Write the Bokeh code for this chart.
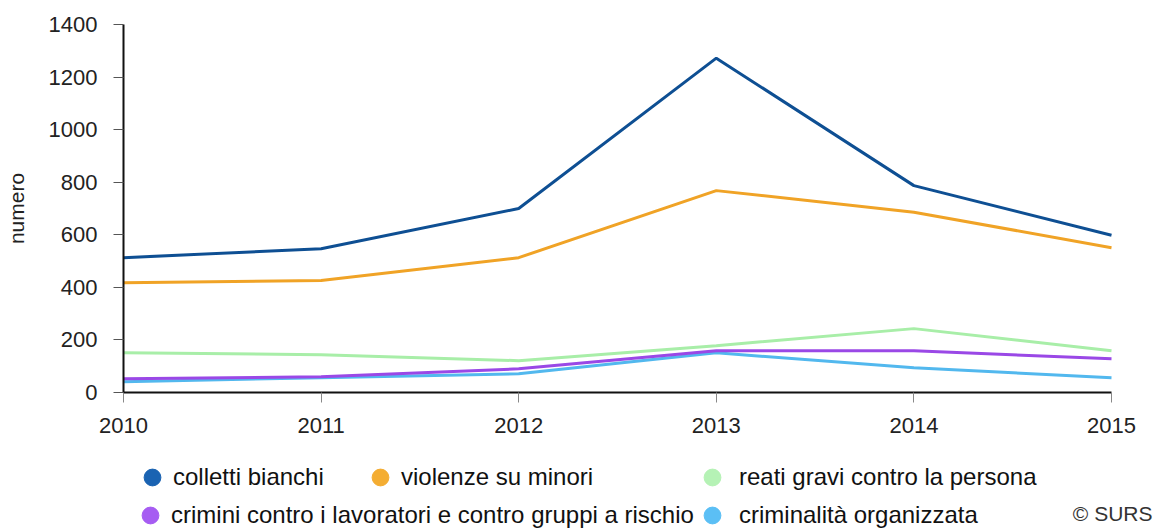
import math
from bokeh.plotting import figure
from bokeh.layouts import column
from bokeh.models import Range1d, FixedTicker, Legend, LegendItem, Label
from bokeh.embed import file_html
from bokeh.resources import INLINE

years = [2010, 2011, 2012, 2013, 2014, 2015]
colletti_bianchi = [513, 547, 700, 1272, 787, 598]
violenze_minori = [418, 426, 513, 768, 686, 551]
reati_gravi = [151, 144, 121, 178, 243, 159]
crimini_lavoratori = [52, 60, 90, 159, 159, 128]
criminalita_org = [41, 56, 71, 151, 94, 56]

names = ["colletti bianchi", "violenze su minori", "reati gravi contro la persona",
         "crimini contro i lavoratori e contro gruppi a rischio", "criminalità organizzata"]
series = [colletti_bianchi, violenze_minori, reati_gravi, crimini_lavoratori, criminalita_org]
line_colors = ["#0e4f93", "#f0a326", "#a8eea8", "#9a48e6", "#52b8ee"]
dot_colors = ["#1a63b2", "#f4ad32", "#b5f2b5", "#a65cf2", "#5bbff5"]
y_ticks = [0, 200, 400, 600, 800, 1000, 1200, 1400]

FONT = "Liberation Sans"

# frame: left edge at 123px, 2015 at 1111px, frame runs to the right edge (1156px)
FRAME_LEFT = 123
PX_PER_YEAR = (1111 - 123) / 5.0
x_end = years[0] + (1156 - FRAME_LEFT) / PX_PER_YEAR

p = figure(width=1156, height=440, output_backend="svg", toolbar_location=None,
           x_range=Range1d(years[0], x_end), y_range=Range1d(0, 1400),
           min_border_left=FRAME_LEFT, min_border_right=0, min_border_top=24, min_border_bottom=48)
p.outline_line_color = None
p.xgrid.grid_line_color = None
p.ygrid.grid_line_color = None

order = [0, 1, 2, 4, 3]
for i in order:
    p.line(years, series[i], line_color=line_colors[i], line_width=3)

# axes
p.xaxis.ticker = FixedTicker(ticks=years)
p.xaxis.bounds = (years[0], years[-1])
p.yaxis.ticker = FixedTicker(ticks=y_ticks)
for ax in (p.xaxis[0], p.yaxis[0]):
    ax.axis_line_color = "#111111"
    ax.axis_line_width = 2
    ax.minor_tick_line_color = None
    ax.major_tick_in = 0
    ax.major_label_text_font = FONT
    ax.major_label_text_font_size = "22px"
    ax.major_label_text_color = "#222222"
p.xaxis.major_tick_out = 10
p.xaxis.major_tick_line_color = "#888888"
p.xaxis.major_label_standoff = 15
p.yaxis.major_tick_out = 10
p.yaxis.major_tick_line_color = "#555555"
p.yaxis.major_label_standoff = 16
p.yaxis.axis_label = "numero"
p.yaxis.axis_label_text_font = FONT
p.yaxis.axis_label_text_font_size = "21px"
p.yaxis.axis_label_text_font_style = "normal"
p.yaxis.axis_label_text_color = "#222222"
p.yaxis.axis_label_standoff = 18

# legend panel (its frame is aligned with the chart's frame)
q = figure(width=1156, height=89, output_backend="svg", toolbar_location=None,
           x_range=Range1d(0, 1), y_range=Range1d(0, 1),
           min_border_left=FRAME_LEFT, min_border_right=0, min_border_top=0, min_border_bottom=0)
q.axis.visible = False
q.grid.visible = False
q.outline_line_color = None

nan = float("nan")
dummies = [q.scatter(x=[nan], y=[nan], marker="circle", fill_color=c, line_color=c)
           for c in dot_colors]

G = 42
leg_pos = [(131 - FRAME_LEFT, 31, 0), (359 - FRAME_LEFT, 31, 0), (691 - FRAME_LEFT, 31, 6),
           (129 - FRAME_LEFT, -7, 0), (691 - FRAME_LEFT, -7, 6)]
for i, (lx, ly, st) in enumerate(leg_pos):
    leg = Legend(items=[LegendItem(label=names[i], renderers=[dummies[i]])],
                 location=(lx, ly), orientation="horizontal",
                 glyph_width=G, glyph_height=G, label_standoff=st,
                 padding=0, margin=0, spacing=0,
                 border_line_color=None, background_fill_alpha=0,
                 label_text_font=FONT, label_text_font_size="24px",
                 label_text_color="#111111")
    q.add_layout(leg, "center")

q.add_layout(Label(x=1152 - FRAME_LEFT, y=16, x_units="screen", y_units="screen",
                   text="© SURS", text_align="right", text_baseline="middle",
                   text_font=FONT, text_font_size="21px", text_color="#333333"))

layout = column(p, q, spacing=0)
open("out.html", "w").write(file_html(layout, INLINE))
